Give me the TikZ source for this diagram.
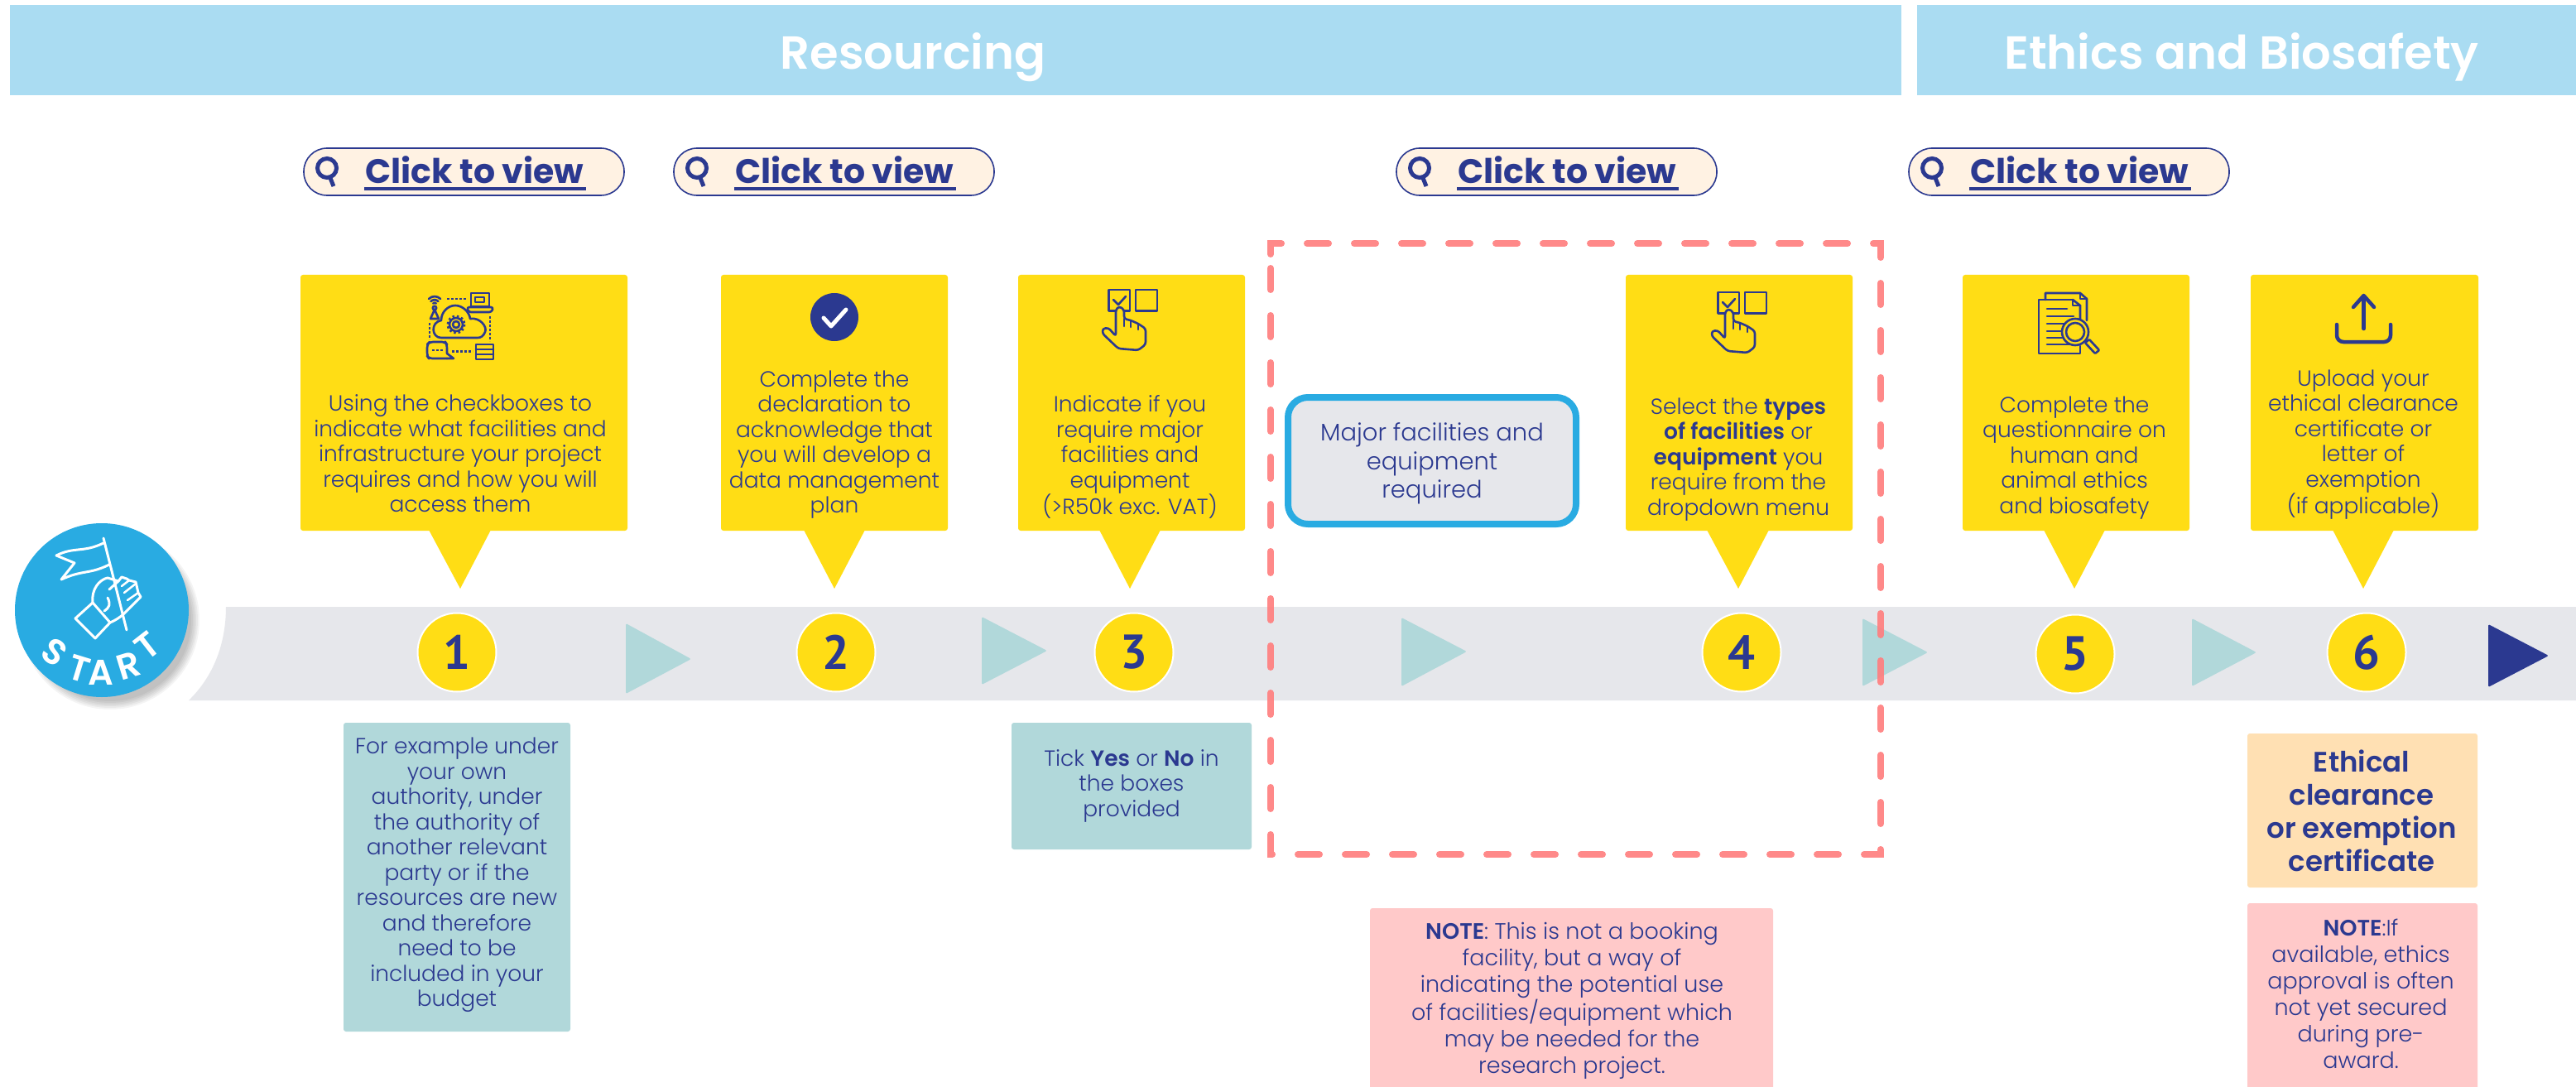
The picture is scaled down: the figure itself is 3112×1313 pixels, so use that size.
\documentclass[tikz,border=0pt]{standalone}
\usepackage{fontspec}
\setmainfont{Poppins}[UprightFont=* Light,BoldFont=* SemiBold]
\newfontfamily\headfont{Poppins}[UprightFont=* SemiBold]
\newfontfamily\heavyfont{Poppins}[UprightFont=* Bold]
\newfontfamily\digitfont{PT Sans}[UprightFont=* Bold]
\definecolor{navy}{HTML}{2B3990}
\definecolor{sunny}{HTML}{FFDD15}
\definecolor{bandgrey}{HTML}{E6E7EB}
\definecolor{tealbox}{HTML}{B1D8DA}
\definecolor{pinkbox}{HTML}{FFC9C9}
\definecolor{orangebox}{HTML}{FFE0B3}
\definecolor{headblue}{HTML}{AADCF2}
\definecolor{cream}{HTML}{FFF2E3}
\definecolor{dashred}{HTML}{FF7F7F}
\definecolor{startblue}{HTML}{29ABE2}
\tikzset{
  bodytext/.style={text=navy,align=center,inner sep=0pt,font=\fontsize{26.5}{30.5}\selectfont},
  headtext/.style={text=white,inner sep=0pt,font=\headfont\fontsize{56}{60}\selectfont},
  stepcircle/.style={circle,fill=sunny,draw=white,line width=2pt,minimum size=95pt,inner sep=0pt,text=navy,font=\digitfont\fontsize{58}{60}\selectfont},
  icon/.style={draw=navy,line width=2.6pt,line join=round,line cap=round},
  dotline/.style={draw=navy,line width=2.6pt,dash pattern=on 2.5pt off 2.5pt},
  flow/.style={fill=tealbox,rounded corners=1.5pt},
  startline/.style={draw=white,line width=3pt,line join=round,line cap=round},
  startletter/.style={text=white,inner sep=0pt,font=\headfont\fontsize{43}{47}\selectfont},
  handicon/.pic={
    \draw[icon] (8.6,0) rectangle (34,25.6);
    \draw[icon] (41,0) rectangle (67,25.6);
    \draw[icon] (14,12) -- (20,18) -- (29,8);
    \draw[icon,rounded corners=3pt,fill=sunny] (21,20) -- (17,24) -- (17,56) -- (8,46) -- (1,47) -- (1,53) -- (20,71) -- (44,73) -- (53,66) -- (53,47) -- (44,41) -- (35,37) -- (27,35) -- (27,24) -- cycle;
    \draw[icon] (35,37) -- (35,45) (44,41) -- (44,48) (27,35) -- (27,44);
  },
  clickbtn/.pic={
    \fill[cream,draw=navy,line width=1.6pt] (0,0) [rounded corners=28pt] rectangle (387,57);
    \draw[navy,line width=5pt] (28,24) circle[radius=11.5];
    \draw[navy,line width=5pt] (32,36) -- (36,46);
    \node[anchor=base west,text=navy,inner sep=0pt,font=\heavyfont\fontsize{41}{44}\selectfont] (-t) at (74,43) {Click to view};
    \draw[navy,line width=4pt] (73,49) -- (341,49);
  }
}
\begin{document}
\begin{tikzpicture}[x=1pt,y=-1pt]
\useasboundingbox (0,0) rectangle (3112,1313);
\clip (0,0) rectangle (3112,1313);
\fill[white] (0,0) rectangle (3112,1313);

% headers
\fill[headblue] (12,6) rectangle (2297,115);
\fill[headblue] (2316,6) rectangle (3112,115);
\node[headtext] (hres) at (1103,69) {Resourcing};
\node[headtext] (heth) at (2708,69) {Ethics and Biosafety};

% buttons
\pic (btna) at (367,179) {clickbtn};
\pic (btnb) at (814,179) {clickbtn};
\pic (btnc) at (1687,179) {clickbtn};
\pic (btnd) at (2306,179) {clickbtn};

% band
\fill[bandgrey] (273,733) -- (3112,733) -- (3112,846) -- (228,846) .. controls (257.5,817.5) and (273,778) .. (273,733) -- cycle;

% yellow callouts
\foreach \xa/\xb/\ta/\tb/\tc in {363/758/518/593/556, 871/1145/971/1045/1008, 1230/1504/1328/1402/1365, 1964/2238/2062/2137/2100, 2371/2645/2469/2543/2506, 2719/2994/2818/2892/2855}{
  \fill[sunny,rounded corners=3pt] (\xa,332) rectangle (\xb,641);
  \fill[sunny,line join=round] (\ta,640) -- (\tb,640) -- (\tc,711) -- cycle;
}

% flow triangles
\fill[flow] (756,753) -- (835,796) -- (756,838) -- cycle;
\fill[flow] (1186,745) -- (1265,786) -- (1186,827) -- cycle;
\fill[flow] (1693,746) -- (1772,787) -- (1693,829) -- cycle;
\fill[flow] (2250,747) -- (2329,788) -- (2250,829) -- cycle;
\fill[flow] (2648,747) -- (2726,788) -- (2648,829) -- cycle;
\fill[navy,rounded corners=1.5pt] (3006,754) -- (3079,792) -- (3006,830) -- cycle;

% step circles
\node[stepcircle] (s1) at (552,788) {1};
\node[stepcircle] (s2) at (1010,788) {2};
\node[stepcircle] (s3) at (1370,788) {3};
\node[stepcircle] (s4) at (2104,788) {4};
\node[stepcircle] (s5) at (2507,790) {5};
\node[stepcircle] (s6) at (2859,788) {6};

% callout text
\node[bodytext] (t1) at (556,548) {Using the checkboxes to\\indicate what facilities and\\infrastructure your project\\requires and how you will\\access them};
\node[bodytext] (t2) at (1008,537) {Complete the\\declaration to\\acknowledge that\\you will develop a\\data management\\plan};
\node[bodytext] (t3) at (1365,552) {Indicate if you\\require major\\facilities and\\equipment\\(>R50k exc. VAT)};
\node[bodytext] (t4) at (2100,555) {Select the \textbf{types}\\\textbf{of facilities} or\\\textbf{equipment} you\\require from the\\dropdown menu};
\node[bodytext] (t5) at (2506,553) {Complete the\\questionnaire on\\human and\\animal ethics\\and biosafety};
\node[bodytext] (t6) at (2855,537) {Upload your\\ethical clearance\\certificate or\\letter of\\exemption\\(if applicable)};

% major box
\node[fill=bandgrey,draw=startblue,line width=8pt,rounded corners=24pt,minimum width=348pt,minimum height=153pt,inner sep=0pt] (majorbox) at (1730,556.5) {};
\node[text=navy,align=center,inner sep=0pt,font=\fontsize{29}{34.5}\selectfont] (major) at (1730,560) {Major facilities and\\equipment\\required};

% lower boxes
\fill[tealbox,rounded corners=3pt] (415,873) rectangle (689,1246);
\node[bodytext] (n1) at (552,1057) {For example under\\your own\\authority, under\\the authority of\\another relevant\\party or if the\\resources are new\\and therefore\\need to be\\included in your\\budget};
\fill[tealbox,rounded corners=3pt] (1222,873) rectangle (1512,1026);
\node[bodytext] (n2) at (1367,949) {Tick \textbf{Yes} or \textbf{No} in\\the boxes\\provided};
\fill[pinkbox,rounded corners=3pt] (1655,1097) rectangle (2142,1330);
\node[bodytext,font=\fontsize{27}{32}\selectfont] (n3) at (1899,1209) {\textbf{NOTE}: This is not a booking\\facility, but a way of\\indicating the potential use\\of facilities/equipment which\\may be needed for the\\research project.};
\fill[orangebox,rounded corners=3pt] (2715,886) rectangle (2993,1072);
\node[bodytext,font=\bfseries\fontsize{34}{40}\selectfont] (n4) at (2853,979) {Ethical\\clearance\\or exemption\\certificate};
\fill[pinkbox,rounded corners=3pt] (2715,1091) rectangle (2993,1330);
\node[bodytext,font=\fontsize{27}{32}\selectfont] (n5) at (2852,1200) {\textbf{NOTE}:If\\available, ethics\\approval is often\\not yet secured\\during pre-\\award.};

% dashed frame
\draw[dashred,opacity=.92,line width=8pt,line cap=round,dash pattern=on 26pt off 31pt] (1535,307) -- (1535,294) -- (2272,294) -- (2272,1032) -- (1535,1032) -- cycle;

% start badge
\foreach \r in {108,106,104,102,100,98}{
  \fill[black,opacity=.045] (133,749) circle[radius=\r];
}
\fill[startblue] (123,737) circle[radius=105];
\draw[startline] (125,650) -- (153,761);
\draw[startline] (125,656) .. controls (100,668) and (90,660) .. (68,671) -- (90,680) -- (74,700) .. controls (100,688) and (108,694) .. (132,682);
\draw[startline] (112,728) -- (91,747) -- (115,771) -- (133,752) -- cycle;
\draw[startline] (112,728) .. controls (110,712) and (120,700) .. (130,698) -- (143,702) -- (132,712);
\draw[startline] (143,702) -- (147,697) -- (153,699) -- (156,701) -- (164,703) -- (167,716) -- (170,721) -- (158,733) -- (150,741) .. controls (145,746) and (138,750) .. (133,752);
\draw[startline,line width=2.5pt] (147,708) -- (156,701) (150,716) -- (164,705) (154,725) -- (167,716);
\draw[startline] (130,722) .. controls (134,730) and (132,734) .. (126,738);
\node[startletter,rotate=-35] (ls) at (66,788) {S};
\node[startletter,rotate=-17] (lt) at (96,808) {T};
\node[startletter] (la) at (122,812) {A};
\node[startletter,rotate=17] (lr) at (155,804) {R};
\node[startletter,rotate=38] (lu) at (178,780) {T};

% icon 1: cloud network
\begin{scope}[shift={(515,353)}]
  \draw[icon] (3,8) arc[start angle=225,end angle=315,radius=10];
  \draw[icon] (5.5,11) arc[start angle=225,end angle=315,radius=6.3];
  \draw[icon] (8.3,13.5) arc[start angle=225,end angle=315,radius=2.5];
  \draw[icon] (10,19) circle[radius=2.2];
  \draw[icon] (10,21) -- (5,32) -- (15,32) -- cycle;
  \draw[dotline] (25,8) -- (49,8);
  \draw[icon] (54,1) rectangle (76,17);
  \draw[icon] (59,6) rectangle (70,12);
  \draw[icon,rounded corners=3pt] (49,18) -- (81,18) -- (79,24) -- (51,24) -- cycle;
  \draw[icon] (18,55) .. controls (6,55) and (5,36) .. (18,34) .. controls (18,24) and (26,16) .. (35,16) .. controls (44,16) and (52,24) .. (53,32) .. controls (65,30) and (74,42) .. (71,48) .. controls (69,53) and (66,55) .. (62,55) -- cycle;
  \draw[icon] (36,39) circle[radius=4];
  \draw[icon] (36,39) circle[radius=8];
  \draw[navy,line width=3pt,dash pattern=on 2.5pt off 2.8pt] (36,39) circle[radius=10];
  \draw[dotline] (4,37) -- (4,57);
  \draw[dotline] (77,29) -- (77,59);
  \draw[icon,rounded corners=4pt] (25,80) -- (3,80) -- (1,77) -- (1,63) -- (4,60) -- (23,60) -- (25,63) -- (25,74);
  \draw[icon] (25,74) -- (33,80) -- (25,80);
  \draw[dotline] (7,70) -- (20,70);
  \draw[dotline] (31,71.5) -- (56,71.5);
  \draw[icon] (60,63) rectangle (81,81);
  \draw[icon] (60,69) -- (81,69) (60,75) -- (81,75);
\end{scope}

% icon 2: check circle
\fill[navy] (1008,383) circle[radius=29];
\draw[white,line width=5pt,line cap=round,line join=round] (995,384) -- (1004,394) -- (1022,374);

% icons 3, 4: pointing hand
\pic at (1331,350) {handicon};
\pic at (2067,353) {handicon};

% icon 5: document and magnifier
\begin{scope}[shift={(2463,354)}]
  \draw[icon] (8,8) -- (8,0) -- (50,0) -- (58,7) -- (58,33);
  \draw[icon] (50,0) -- (50,7) -- (58,7);
  \draw[icon] (41,8) -- (0,8) -- (0,73) -- (50,73) -- (50,64);
  \draw[icon] (41,8) -- (50,15) -- (50,31);
  \draw[icon] (41,8) -- (41,15) -- (50,15);
  \draw[icon] (10,19) -- (34,19) (10,28) -- (42,28) (10,37) -- (32,37) (10,46) -- (30,46) (10,54) -- (32,54) (10,62) -- (47,62);
  \fill[sunny] (44,47) circle[radius=16];
  \draw[icon] (44,47) circle[radius=16];
  \draw[icon] (44,47) circle[radius=11];
  \draw[icon,rounded corners=1pt] (56,60) -- (61,56) -- (73,69) -- (68,73) -- cycle;
\end{scope}

% icon 6: upload
\begin{scope}[shift={(2821,355)}]
  \draw[navy,line width=4.5pt,line cap=round] (34.5,3) -- (34.5,42);
  \draw[navy,line width=4.5pt,line cap=round,line join=round] (22,16) -- (34.5,2) -- (47,16);
  \draw[navy,line width=4.5pt,line cap=round,rounded corners=8pt] (2,37) -- (2,58) -- (67,58) -- (67,37);
\end{scope}
\end{tikzpicture}
\end{document}
